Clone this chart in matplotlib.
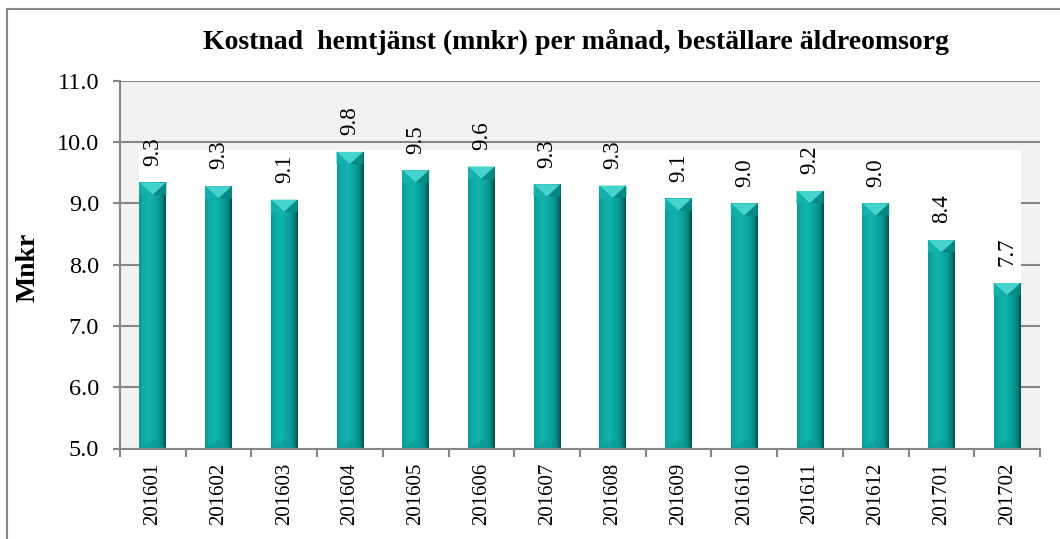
import matplotlib
matplotlib.use("Agg")
import matplotlib.pyplot as plt
import numpy as np
from matplotlib.patches import Rectangle, Polygon
from matplotlib.colors import LinearSegmentedColormap

categories = ["201601", "201602", "201603", "201604", "201605", "201606", "201607",
              "201608", "201609", "201610", "201611", "201612", "201701", "201702"]
values = [9.34, 9.28, 9.06, 9.84, 9.54, 9.60, 9.31, 9.29, 9.08, 9.00, 9.20, 9.00, 8.40, 7.70]
labels = ["9.3", "9.3", "9.1", "9.8", "9.5", "9.6", "9.3", "9.3", "9.1", "9.0", "9.2", "9.0", "8.4", "7.7"]
title = "Kostnad  hemtjänst (mnkr) per månad, beställare äldreomsorg"
ylabel = "Mnkr"
yticks = [5.0, 6.0, 7.0, 8.0, 9.0, 10.0, 11.0]

serif = ["Liberation Serif", "DejaVu Serif"]
plt.rcParams["font.family"] = serif

W, H = 1060, 539
fig = plt.figure(figsize=(W / 100, H / 100), dpi=100)
ax = fig.add_axes([120 / W, 1 - 448.5 / H, (1040 - 120) / W, (448.5 - 80.7) / H])

grey = "#868686"
ax.set_facecolor("#f2f2f2")
x = np.arange(len(categories))
ax.set_xlim(-0.5, len(categories) - 0.5)
ax.set_ylim(5.0, 11.0)

for v in yticks[1:]:
    ax.axhline(v, color=grey, lw=1.5, zorder=0.5)

bars = ax.bar(x, [v - 5.0 for v in values], bottom=5.0, width=0.41, color="none",
              edgecolor="none", zorder=3)

# white area behind bars (Excel artifact)
x0 = bars[0].get_x()
x1 = bars[-1].get_x() + bars[-1].get_width()
ax.add_patch(Rectangle((x0, 5.0), x1 - x0, 4.865, facecolor="white", edgecolor="none", zorder=1))

cmap = LinearSegmentedColormap.from_list("teal", [
    (0.0, "#0a9995"), (0.15, "#0eaaa5"), (0.4, "#12b3ae"), (0.7, "#0a9e99"),
    (0.88, "#06807c"), (1.0, "#034f4d")])
grad = np.linspace(0, 1, 64).reshape(1, -1)
for b in bars:
    bx, bw = b.get_x(), b.get_width()
    by, bh = b.get_y(), b.get_height()
    im = ax.imshow(grad, cmap=cmap, aspect="auto", extent=(bx, bx + bw, by, by + bh),
                   zorder=3, interpolation="bilinear")
    im.set_clip_path(b)
    top = by + bh
    d = 0.2
    ax.add_patch(Polygon([(bx, top), (bx + bw, top), (bx + bw / 2, top - d)],
                         closed=True, facecolor="#45d3ce", edgecolor="none", zorder=4))
    ax.add_patch(Polygon([(bx, top), (bx + bw / 2, top - d), (bx, top - d)],
                         closed=True, facecolor="#14b0ab", edgecolor="none", zorder=4))
    ax.add_patch(Polygon([(bx + bw, top), (bx + bw / 2, top - d), (bx + bw, top - d)],
                         closed=True, facecolor="#078a86", edgecolor="none", zorder=4))
    ax.add_patch(Polygon([(bx, by), (bx + bw, by), (bx + bw / 2, by + d * 0.7)],
                         closed=True, facecolor="#0a9893", edgecolor="none", zorder=4, alpha=0.6))

for xi, v, lab in zip(x, values, labels):
    ax.annotate(lab, (xi, v), xytext=(0, 12), textcoords="offset points",
                rotation=90, ha="center", va="bottom", fontsize=16.5, zorder=5)

ax.set_yticks(yticks)
ax.set_yticklabels([f"{v:.1f}" for v in yticks], fontsize=17.5)
ax.tick_params(axis="y", length=5, width=1.5, color=grey, pad=10)

ax.set_xticks(x)
ax.set_xticklabels(categories, rotation=90, fontsize=15)
ax.tick_params(axis="x", which="major", length=0, pad=10)
ax.set_xticks(np.arange(-0.5, len(categories) + 0.5, 1), minor=True)
ax.tick_params(axis="x", which="minor", length=6, width=1.5, color=grey)

for s in ["top", "right"]:
    ax.spines[s].set_visible(False)
for s in ["left", "bottom"]:
    ax.spines[s].set_color(grey)
    ax.spines[s].set_linewidth(1.5)
    ax.spines[s].set_zorder(6)

fig.text(28 / W, 1 - 267 / H, ylabel, rotation=90, ha="center", va="center",
         fontsize=20, fontweight="bold")
fig.text(576 / W, 1 - 42 / H, title, ha="center", va="center", fontsize=20, fontweight="bold")

fig.patches.append(Rectangle((7 / W, -0.1), 1.2, 1 - 9 / H + 0.1, transform=fig.transFigure,
                             facecolor="none", edgecolor="#888888", lw=1.5))

fig.savefig("out.png", dpi=100)
